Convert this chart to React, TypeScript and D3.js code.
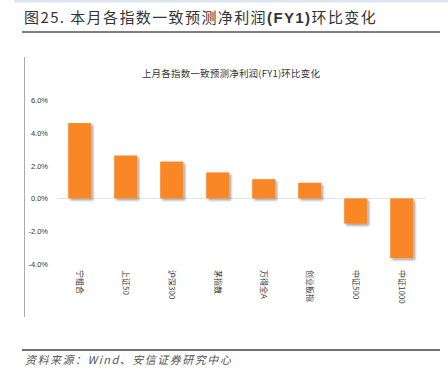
import React from "react";
import * as d3 from "d3";

const categories = ["宁组合", "上证50", "沪深300", "茅指数", "万得全A", "创业板指", "中证500", "中证1000"];
const values = [4.58, 2.61, 2.24, 1.58, 1.17, 0.95, -1.54, -3.63];
const yTicks = [6, 4, 2, 0, -2, -4];

const W = 448;
const H = 383;

export default function App() {
  const x = d3.scaleBand<string>().domain(categories).range([56.7, 424.7]).paddingInner(0.5).paddingOuter(0.25);
  const y = d3.scaleLinear().domain([-4, 6]).range([264.2, 99.7]);
  const bw = x.bandwidth();
  const cjk = "'Noto Sans CJK SC', 'Liberation Sans', sans-serif";
  return (
    <svg width={W} height={H} style={{ position: "absolute", left: 0, top: 0, background: "#fff" }}>
      <defs>
        <filter id="sh" x="-20%" y="-20%" width="150%" height="150%">
          <feGaussianBlur in="SourceAlpha" stdDeviation="1" />
          <feOffset dx="2" dy="2" result="b" />
          <feComponentTransfer><feFuncA type="linear" slope="0.35" /></feComponentTransfer>
          <feMerge><feMergeNode /><feMergeNode in="SourceGraphic" /></feMerge>
        </filter>
      </defs>
      <rect x={14} y={0} width={434} height={2.5} fill="#dce6f2" />
      <text x={24} y={23} fontFamily={cjk} fontSize={15} letterSpacing={1.4} fill="#333">
        图25. 本月各指数一致预测净利润<tspan fontWeight="bold" fontFamily="'Liberation Sans', Arial, sans-serif">(FY1)</tspan>环比变化
      </text>
      <line x1={22} x2={440} y1={32} y2={32} stroke="#555" strokeWidth={1.5} />
      <line x1={24.5} x2={24.5} y1={57} y2={317} stroke="#aaa" strokeWidth={1} />
      <text x={231} y={77} textAnchor="middle" fontFamily={cjk} fontSize={9.5} letterSpacing={0.2} fill="#333">
        上月各指数一致预测净利润(FY1)环比变化
      </text>
      {yTicks.map((t) => (
        <text key={t} x={48} y={y(t) + 3} textAnchor="end" fontFamily="'Liberation Sans', Arial, sans-serif" fontSize={7.5} fill="#333">
          {t.toFixed(1) + "%"}
        </text>
      ))}
      <line x1={57} x2={426} y1={y(0)} y2={y(0)} stroke="#e3e3e3" strokeWidth={1} />
      {categories.map((c, i) => {
        const v = values[i];
        return (
          <rect key={c} x={x(c)} y={Math.min(y(v), y(0))} width={bw} height={Math.abs(y(v) - y(0))} fill="#FA8726" filter="url(#sh)" />
        );
      })}
      {categories.map((c) => {
        const cx = (x(c) as number) + bw / 2;
        return (
          <text key={c} transform={`translate(${cx - 3},270) rotate(90)`} fontFamily={cjk} fontSize={8} fill="#333">
            {c}
          </text>
        );
      })}
      <line x1={22} x2={440} y1={350} y2={350} stroke="#444" strokeWidth={1.5} />
      <text x={25} y={364} fontFamily={cjk} fontSize={11} letterSpacing={1.5} fontStyle="italic" fill="#555">
        资料来源：Wind、安信证券研究中心
      </text>
    </svg>
  );
}
